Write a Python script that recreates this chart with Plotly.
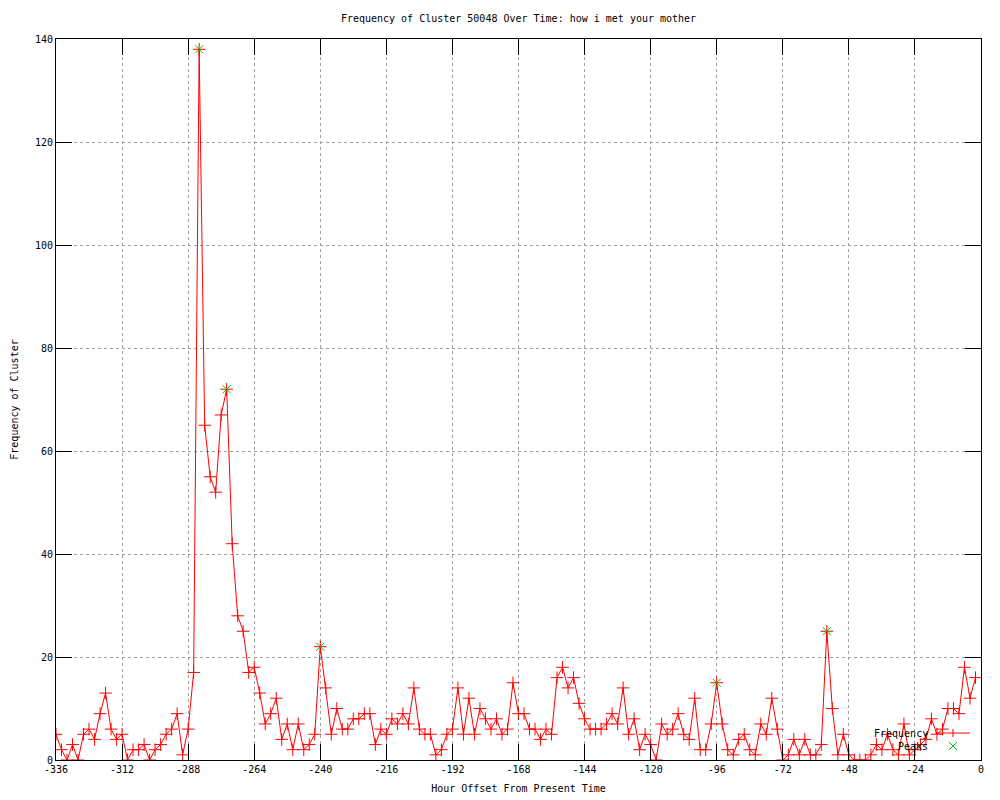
import numpy as np
import plotly.graph_objects as go

# Hour offsets (every 2 hours from -336 to -2)
hours = list(range(-336, 0, 2))

frequency = [
    5, 2, 0, 3, 0, 5, 6, 4, 9, 13, 6, 4, 5, 0, 2, 2, 3, 0, 2, 3, 5, 6, 9, 1, 6, 17,
    138, 65, 55, 52, 67, 72, 42, 28, 25, 17, 18,
    13, 7, 9, 12, 4, 7, 2, 7, 2, 3, 5, 22, 14, 5, 10, 6, 6, 8, 8,
    9, 9, 3, 6, 5, 8, 7, 9, 7, 14, 6, 5, 5, 1, 2, 5, 6, 14, 5, 12, 5, 10, 8, 6, 8, 5, 6, 15, 9, 9, 6,
    6, 4, 6, 5, 16, 18, 14, 16, 11, 8, 6, 6, 6, 7, 9, 7, 14, 5, 8, 2, 5, 3, 0, 7, 5, 6, 9,
    5, 4, 12, 2, 2, 7, 15, 7, 2, 1, 4, 5, 2, 1, 7, 5, 12, 6, 0, 1, 4, 1, 4, 1, 1, 3, 25,
    10, 1, 5, 1, 0, 0, 0, 1, 3, 2, 5, 2, 1, 7, 1, 2, 3, 4, 8, 5, 6, 10, 10, 9, 18, 12, 16,
]

peak_hours = [-284, -274, -240, -96, -56]
peak_values = [138, 72, 22, 15, 25]

x_tick_vals = list(range(-336, 1, 24))
x_tick_text = ["-336", "-312", "-288", "-264", "-240", "-216", "-192", "-168",
               "-144", "-120", "-96", "-72", "-48", "-24", "0"]
y_tick_vals = list(range(0, 141, 20))
y_tick_text = ["0", "20", "40", "60", "80", "100", "120", "140"]

legend_labels = ["Frequency", "Peaks"]

FONT = "DejaVu Sans Mono"
RED = "#ff0000"
GREEN = "#00c000"

fig = go.Figure()
fig.add_trace(go.Scatter(
    x=hours, y=frequency, name=legend_labels[0], mode="lines+markers",
    line=dict(color=RED, width=1),
    marker=dict(symbol="cross-thin-open", size=9, color=RED,
                line=dict(color=RED, width=1)),
))
fig.add_trace(go.Scatter(
    x=peak_hours, y=peak_values, name=legend_labels[1], mode="markers",
    marker=dict(symbol="x-thin-open", size=8, color=GREEN,
                line=dict(color=GREEN, width=1)),
))

axis_common = dict(
    showline=True, linecolor="black", linewidth=1, mirror="ticks",
    ticks="inside", ticklen=16, tickcolor="black", tickwidth=1,
    showgrid=True, gridcolor="#a0a0a0", griddash="dot", gridwidth=1,
    zeroline=False, automargin=False,
    tickfont=dict(family=FONT, size=10, color="black"),
)

# gnuplot-style key (text right-aligned, sample on the right)
key_text_x = 0.9449
key_line_x0, key_line_x1 = 0.9503, 0.9881
key_mark_x = 0.9697
key_rows_y = [0.0374, 0.0194]

annotations = []
shapes = []
for label, ky in zip(legend_labels, key_rows_y):
    annotations.append(dict(text=label, x=key_text_x, y=ky, xref="paper", yref="paper",
                            xanchor="right", yanchor="middle", showarrow=False,
                            font=dict(family=FONT, size=10, color="black")))
# Frequency sample: line + cross
shapes.append(dict(type="line", xref="paper", yref="paper", x0=key_line_x0, x1=key_line_x1,
                   y0=key_rows_y[0], y1=key_rows_y[0], line=dict(color=RED, width=1)))
shapes.append(dict(type="line", xref="paper", yref="paper", x0=key_mark_x, x1=key_mark_x,
                   ysizemode="pixel", yanchor=key_rows_y[0], y0=-4, y1=4,
                   line=dict(color=RED, width=1)))
# Peaks sample: green x
for d in (1, -1):
    shapes.append(dict(type="line", xref="paper", yref="paper",
                       xsizemode="pixel", xanchor=key_mark_x, x0=-4, x1=4,
                       ysizemode="pixel", yanchor=key_rows_y[1], y0=-4 * d, y1=4 * d,
                       line=dict(color=GREEN, width=1)))

fig.update_layout(
    width=1000, height=800,
    margin=dict(l=48, r=27, t=31, b=48),
    paper_bgcolor="white", plot_bgcolor="white",
    font=dict(family=FONT, size=10, color="black"),
    title=dict(text="Frequency of Cluster 50048 Over Time: how i met your mother",
               xref="paper", x=0.5, xanchor="center", y=1 - 10 / 800, yanchor="middle",
               font=dict(family=FONT, size=10, color="black")),
    xaxis=dict(range=[-336, 0], tickvals=x_tick_vals, ticktext=x_tick_text,
               title=dict(text="Hour Offset From Present Time", standoff=10,
                          font=dict(family=FONT, size=10)),
               **axis_common),
    yaxis=dict(range=[0, 140], tickvals=y_tick_vals, ticktext=y_tick_text,
               title=dict(text="Frequency of Cluster", standoff=14,
                          font=dict(family=FONT, size=10)),
               **axis_common),
    showlegend=False,
    annotations=annotations,
    shapes=shapes,
)

fig.write_html("out.html")
